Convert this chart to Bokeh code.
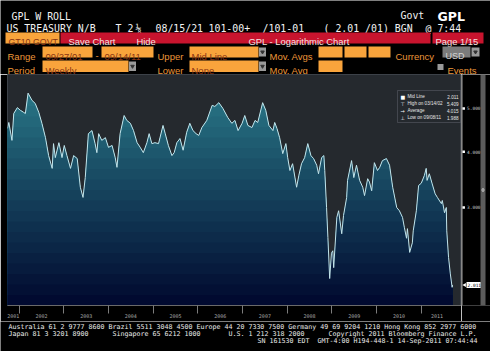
import numpy as np
from bokeh.plotting import figure
from bokeh.models import Range1d, FixedTicker, Label, BoxAnnotation
from bokeh.layouts import column, row
from bokeh.embed import file_html
from bokeh.resources import INLINE
from bokeh.core.properties import value

# ---------------- data (weekly 10y yield) ----------------
years = [2001.74, 2001.77, 2001.84, 2001.88, 2001.96, 2002.03, 2002.10, 2002.14, 2002.20, 2002.29,
         2002.36, 2002.44, 2002.51, 2002.59, 2002.66, 2002.74, 2002.77, 2002.81, 2002.89, 2002.96,
         2003.01, 2003.07, 2003.15, 2003.22, 2003.30, 2003.37, 2003.43, 2003.48, 2003.55, 2003.63,
         2003.70, 2003.74, 2003.78, 2003.85, 2003.93, 2004.00, 2004.08, 2004.15, 2004.19, 2004.26,
         2004.35, 2004.41, 2004.49, 2004.56, 2004.64, 2004.71, 2004.78, 2004.86, 2004.91, 2004.97,
         2005.04, 2005.12, 2005.22, 2005.27, 2005.34, 2005.42, 2005.47, 2005.53, 2005.60, 2005.67,
         2005.75, 2005.82, 2005.89, 2005.96, 2006.02, 2006.09, 2006.20, 2006.32, 2006.38, 2006.47,
         2006.56, 2006.67, 2006.76, 2006.83, 2006.90, 2006.99, 2007.05, 2007.12, 2007.21, 2007.28,
         2007.34, 2007.45, 2007.52, 2007.59, 2007.68, 2007.72, 2007.77, 2007.83, 2007.90, 2007.97,
         2008.01, 2008.06, 2008.12, 2008.21, 2008.26, 2008.32, 2008.39, 2008.46, 2008.53, 2008.59,
         2008.66, 2008.70, 2008.77, 2008.82, 2008.84, 2008.88, 2008.91, 2008.95, 2008.99, 2009.02,
         2009.04, 2009.11, 2009.15, 2009.22, 2009.26, 2009.33, 2009.35, 2009.44, 2009.49, 2009.55,
         2009.62, 2009.69, 2009.73, 2009.80, 2009.84, 2009.89, 2009.95, 2010.02, 2010.07, 2010.13,
         2010.22, 2010.29, 2010.36, 2010.45, 2010.51, 2010.58, 2010.62, 2010.67, 2010.69, 2010.74,
         2010.80, 2010.82, 2010.89, 2010.94, 2011.00, 2011.07, 2011.11, 2011.13, 2011.18, 2011.24,
         2011.31, 2011.36, 2011.45, 2011.47, 2011.52, 2011.56, 2011.57, 2011.61, 2011.65, 2011.69,
         2011.70]
yields = [4.51, 4.65, 4.24, 4.87, 5.02, 4.95, 4.90, 4.87, 5.41, 5.21,
          5.13, 4.90, 4.63, 4.30, 3.92, 3.67, 4.17, 3.88, 4.19, 3.88,
          4.13, 3.92, 3.67, 3.92, 3.86, 3.33, 3.16, 3.50, 4.39, 4.46,
          4.17, 3.98, 4.39, 4.24, 4.30, 4.09, 4.13, 3.88, 3.69, 4.39,
          4.82, 4.70, 4.63, 4.46, 4.19, 4.09, 3.98, 4.19, 4.39, 4.17,
          4.19, 4.17, 4.58, 4.39, 4.13, 3.92, 3.98, 4.19, 4.28, 4.03,
          4.42, 4.63, 4.46, 4.39, 4.35, 4.53, 4.70, 5.08, 5.05, 5.15,
          5.00, 4.77, 4.63, 4.70, 4.46, 4.63, 4.82, 4.58, 4.53, 4.70,
          4.65, 5.15, 4.95, 4.58, 4.46, 4.65, 4.51, 4.30, 3.96, 4.17,
          3.88, 3.63, 3.76, 3.33, 3.54, 3.76, 3.88, 4.17, 3.92, 3.86,
          3.73, 3.57, 3.88, 3.92, 3.63, 3.00, 2.57, 2.08, 2.37, 2.40,
          2.20, 2.85, 2.95, 2.62, 2.88, 3.16, 3.45, 3.82, 3.50, 3.73,
          3.45, 3.33, 3.19, 3.48, 3.42, 3.27, 3.78, 3.63, 3.69, 3.82,
          3.86, 3.73, 3.33, 3.00, 2.95, 2.85, 2.71, 2.56, 2.69, 2.38,
          2.50, 2.66, 2.95, 3.36, 3.40, 3.54, 3.67, 3.45, 3.57, 3.40,
          3.22, 3.16, 3.06, 3.11, 2.92, 3.00, 2.66, 2.32, 2.13, 1.988,
          2.011]
year_labels = ["2001", "2002", "2003", "2004", "2005", "2006", "2007", "2008", "2009", "2010", "2011"]
axis_ticks = [3.0, 4.0, 5.0]
legend_icons = ["■", "⊤", "→", "⊥"]
legend_names = ["Mid Line", "High on 03/14/02", "Average", "Low on 09/08/11"]
legend_values = [2.011, 5.409, 4.015, 1.988]
last_value = 2.011

ORANGE = "#f9a43c"
ORANGE_TXT = "#ec973a"
BOX_TXT = "#8a3412"
RED = "#c8142e"
MONO = "DejaVu Sans Mono"
SANS = "Liberation Sans"


def blank(w, h):
    f = figure(width=w, height=h, x_range=Range1d(0, w), y_range=Range1d(h, 0),
               x_axis_type=None, y_axis_type=None, output_backend="svg",
               toolbar_location=None, min_border=0, background_fill_color="black",
               border_fill_color="black", outline_line_color=None)
    return f


def txt(f, xs, ys, texts, font, size, color, style="normal", align="left"):
    f.text(x=xs, y=ys, text=texts, text_font=value(font), text_font_size=value(size),
           text_color=color, text_baseline="alphabetic", text_align=align,
           text_font_style=style)


# ---------------- header ----------------
hd = blank(490, 74)
txt(hd, [11], [16], ["GPL W ROLL"], MONO, "9.9px", "#f2f2f2")
txt(hd, [400], [15], ["Govt"], MONO, "9.9px", "#f2f2f2")
txt(hd, [437], [16], ["GPL"], "DejaVu Sans", "12.5px", "#ffffff", style="bold")
txt(hd, [6, 115, 135, 155, 208, 262, 323, 425],
    [27.5] * 8,
    ["US TREASURY N/B", "T 2", "⅛", "08/15/21", "101-00+", "/101-01", "( 2.01 /01) BGN", "@ 7:44"],
    MONO, "9.9px", "#f2f2f2")

# row 2: buttons
hd.quad(left=[5], right=[59], top=[32], bottom=[43], fill_color=ORANGE, line_color=None)
hd.quad(left=[60, 432], right=[430, 483], top=[32, 32], bottom=[43, 43],
        fill_color=RED, line_color=None)
txt(hd, [8], [41], ["GT10 GOVT"], SANS, "8.8px", BOX_TXT)
txt(hd, [68, 136, 248, 435], [40.8] * 4,
    ["Save Chart", "Hide", "GPL - Logarithmic Chart", "Page 1/15"], SANS, "9.4px", "#f7e1e1")

# row 3 & 4: fields
hd.quad(left=[42, 101, 189, 318, 344, 368, 42, 189, 318],
        right=[92, 153, 258, 342, 366, 390, 128, 258, 342],
        top=[46, 46, 46, 46, 46, 46, 60, 60, 60],
        bottom=[57, 57, 57, 57, 57, 57, 71.5, 71.5, 71.5],
        fill_color=ORANGE, line_color=None)
hd.quad(left=[258.5, 258.5, 128.5, 471, 437], right=[265.5, 265.5, 135.5, 479, 443],
        top=[47, 61, 61, 47, 63.5], bottom=[56, 70.5, 70.5, 56, 69.5],
        fill_color="#9a9a9a", line_color=None)
hd.quad(left=[442], right=[470], top=[46], bottom=[57], fill_color="#7b7b7b", line_color=None)
hd.scatter(x=[262, 262, 132, 475], y=[51.5, 65.8, 65.8, 51.5], marker="inverted_triangle",
           size=3.5, color="#333333")
txt(hd, [7, 95, 157, 269, 395], [55.5] * 5, ["Range", "-", "Upper", "Mov. Avgs", "Currency"],
    SANS, "9.5px", ORANGE_TXT)
txt(hd, [7, 157, 269, 447], [69.5] * 4, ["Period", "Lower", "Mov. Avg", "Events"],
    SANS, "9.5px", ORANGE_TXT)
txt(hd, [45, 104, 191, 45, 191], [55.5, 55.5, 55.5, 69.5, 69.5],
    ["09/27/01", "09/14/11", "Mid Line", "Weekly", "None"], SANS, "9.5px", BOX_TXT)
txt(hd, [445], [55.3], ["USD"], SANS, "9px", "#d4d4d4")

# ---------------- chart ----------------
x0, x1 = 2001.74, 2011.90
y0, y1 = 1.81, 5.955
yr = Range1d(y0, y1)
p = figure(width=461, height=247, x_range=Range1d(x0, x1), y_range=yr,
           y_axis_type="log", y_axis_location=None, output_backend="svg",
           toolbar_location=None, min_border_left=7, min_border_right=0,
           min_border_top=0, min_border_bottom=16, background_fill_color="#25292e",
           border_fill_color="black", outline_line_color="#3c4148")
p.grid.visible = False

ys = np.array(yields)
n_bands = 22
edges = np.geomspace(y0, y1, n_bands + 1)
top_c = np.array([44, 128, 142])
bot_c = np.array([0, 8, 46])
for i in reversed(range(n_bands)):
    f = (i + 0.5) / n_bands
    c = (bot_c + (top_c - bot_c) * f).astype(int)
    p.varea(x=years, y1=np.full(len(years), y0), y2=np.clip(ys, y0, edges[i + 1]),
            fill_color="#%02x%02x%02x" % tuple(c))
p.line(x=years, y=yields, line_color="#c3e4ea", line_width=1)

# legend box (frame screen units: x from frame left, y from frame bottom)
p.add_layout(BoxAnnotation(left=390, right=453, bottom=183, top=215, left_units="screen",
                           right_units="screen", bottom_units="screen", top_units="screen",
                           fill_color="#25292e", fill_alpha=1, line_color="#8a9097",
                           line_width=1, level="annotation"))
for k, (ic, name, val) in enumerate(zip(legend_icons, legend_names, legend_values)):
    yy = 209 - 7 * k
    p.add_layout(Label(x=393, y=yy, x_units="screen", y_units="screen", text=ic,
                       text_font="DejaVu Sans", text_font_size="5px", text_color="#ffffff",
                       text_baseline="middle", text_align="left", level="overlay"))
    p.add_layout(Label(x=400, y=yy, x_units="screen", y_units="screen", text=name,
                       text_font=SANS, text_font_size="4.6px", text_color="#e6e6e6",
                       text_baseline="middle", text_align="left", level="overlay"))
    p.add_layout(Label(x=451, y=yy, x_units="screen", y_units="screen", text=f"{val:.3f}",
                       text_font=SANS, text_font_size="4.6px", text_color="#e6e6e6",
                       text_baseline="middle", text_align="right", level="overlay"))

# x axis: year separators as minor ticks, labels centred on the visible part of each year
t0, t1 = years[0], years[-1]
label_pos = []
for lab in year_labels:
    yv = int(lab)
    lo, hi = max(yv, t0), min(yv + 1, t1)
    label_pos.append((lo + hi) / 2)
bounds = [int(l) for l in year_labels[1:]]
xa = p.xaxis[0]
xa.ticker = FixedTicker(ticks=label_pos, minor_ticks=bounds)
xa.major_label_overrides = {pos: lab for pos, lab in zip(label_pos, year_labels)}
xa.axis_line_color = "#6a6a6a"
xa.major_tick_out = 0
xa.major_tick_in = 0
xa.minor_tick_out = 8
xa.minor_tick_in = 0
xa.minor_tick_line_color = "#7c7c7c"
xa.major_label_standoff = 0
xa.major_label_text_font = MONO
xa.major_label_text_font_size = "5px"
xa.major_label_text_color = "#a8a8a8"

# ---------------- right-hand price scale (shares the chart's log y range) ----------------
s = figure(width=29, height=247, x_range=Range1d(0, 29), y_range=yr, y_axis_type="log",
           x_axis_type=None, y_axis_location=None, output_backend="svg",
           toolbar_location=None, min_border_left=0, min_border_right=0, min_border_top=0,
           min_border_bottom=16, background_fill_color="black", border_fill_color="black",
           outline_line_color=None)
s.grid.visible = False
s.segment(x0=[0.5], y0=[y0], x1=[0.5], y1=[y1], line_color="#a0a0a0", line_width=1)
s.scatter(x=[2.2] * len(axis_ticks), y=axis_ticks, marker="square", size=2.5,
          color="#ffffff", line_color=None)
s.text(x=[5.5] * len(axis_ticks), y=axis_ticks, text=[f"{t:.3f}" for t in axis_ticks],
       text_font=value(MONO), text_font_size=value("4.5px"), text_color="#c8c8c8",
       text_baseline="middle", text_align="left")
s.scatter(x=[3.2], y=[last_value], marker="triangle", angle=np.pi / 2, size=4,
          color="#ffffff", line_color=None)
s.text(x=[5.0], y=[last_value], text=[f"{last_value:.3f}"], text_font=value(MONO),
       text_font_size=value("4.5px"), text_color="#000000", text_baseline="middle",
       text_align="left", background_fill_color="#ffffff", padding=1)
# scrollbar
s.quad(left=[19], right=[24], bottom=[y0], top=[y1], fill_color="#5c5c5c", line_color=None)
s.scatter(x=[21.5], y=[float(np.sqrt(y0 * y1))], marker="diamond", size=4, color="#a8a8a8")

# ---------------- footer ----------------
ft = blank(490, 30)
FS = "6.65px"
txt(ft, [8], [5.8], ["Australia 61 2 9777 8600 Brazil 5511 3048 4500 Europe 44 20 7330 7500 "
                     "Germany 49 69 9204 1210 Hong Kong 852 2977 6000"], MONO, FS, "#ececec")
txt(ft, [8, 112, 228, 328], [12.5] * 4,
    ["Japan 81 3 3201 8900", "Singapore 65 6212 1000", "U.S. 1 212 318 2000",
     "Copyright 2011 Bloomberg Finance L.P."], MONO, FS, "#ececec")
txt(ft, [257, 317], [19.2] * 2, ["SN 161530 EDT", "GMT-4:00 H194-448-1 14-Sep-2011 07:44:44"],
    MONO, FS, "#ececec")

layout = column(hd, row(p, s), ft)
open("out.html", "w").write(file_html(layout, INLINE))
